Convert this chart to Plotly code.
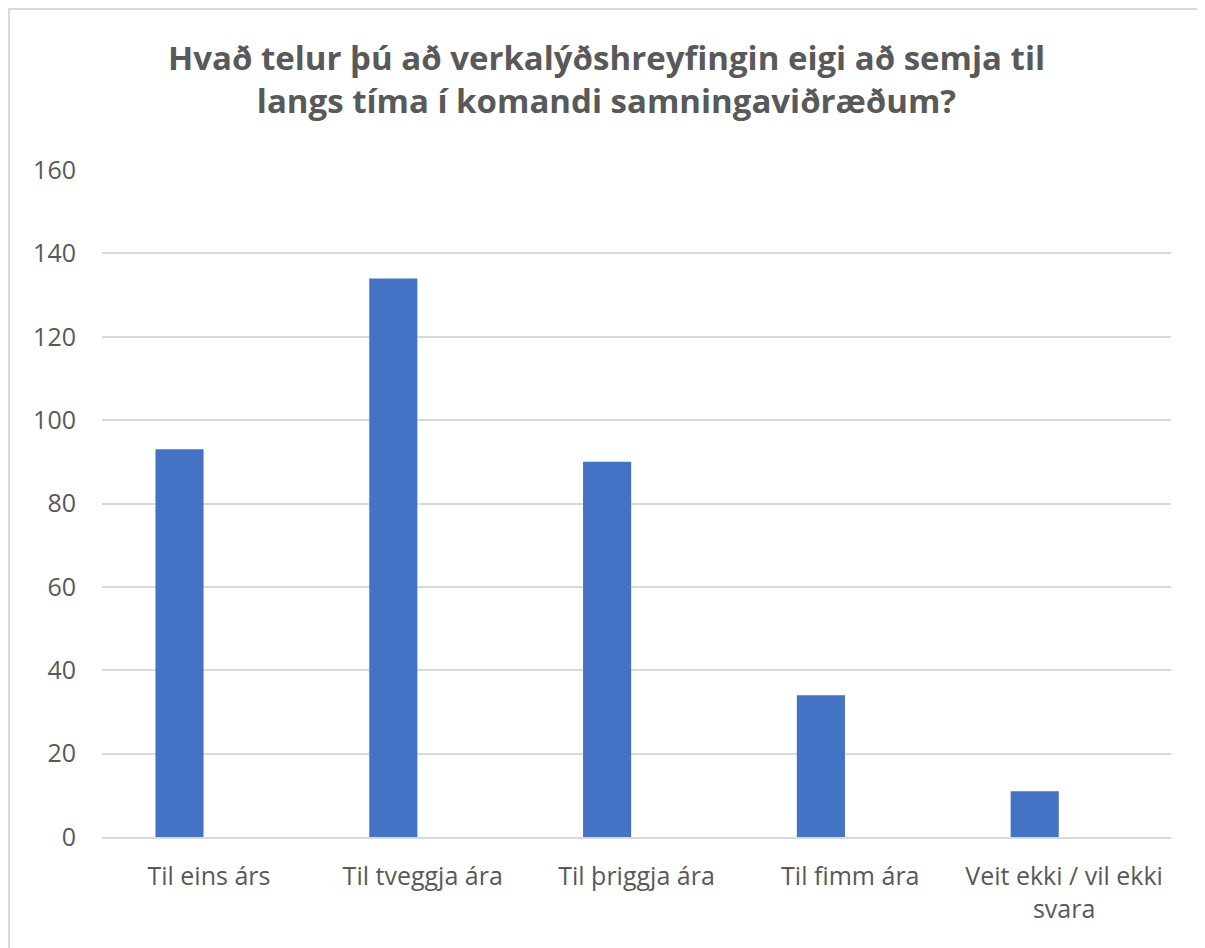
import plotly.graph_objects as go

categories = ["Til eins árs", "Til tveggja ára", "Til þriggja ára", "Til fimm ára", "Veit ekki / vil ekki<br>svara"]
values = [93, 134, 90, 34, 11]
y_ticks = [0, 20, 40, 60, 80, 100, 120, 140, 160]
title_text = "Hvað telur þú að verkalýðshreyfingin eigi að semja til<br>langs tíma í komandi samningaviðræðum?"

# page body has an 8px margin, so the figure is sized/positioned relative to that
OFF = 8
W, H = 1205 - OFF, 948 - OFF
L = 102 - OFF
R = W - (1171 - OFF)
T = 170 - OFF
B = H - (837 - OFF)
PW, PH = W - L - R, H - T - B

fig = go.Figure()
fig.add_trace(go.Bar(
    x=categories, y=values,
    marker=dict(color="#4472C4", line=dict(width=0)),
    width=0.225, offset=-0.25,
    hoverinfo="x+y",
))

fig.update_layout(
    width=W, height=H,
    margin=dict(l=L, r=R, t=T, b=B),
    plot_bgcolor="white", paper_bgcolor="white",
    showlegend=False,
    font=dict(family="Open Sans", color="#595959"),
    title=dict(
        text=title_text,
        x=0.5, xanchor="center",
        y=1 - (70 - OFF) / H, yanchor="middle",
        font=dict(family="Open Sans", size=33, color="#595959", weight="bold"),
    ),
    xaxis=dict(
        showline=True, linecolor="#d9d9d9", linewidth=2,
        ticks="", tickfont=dict(size=25, color="#595959"),
        ticklabelstandoff=16,
    ),
    yaxis=dict(
        range=[0, 160], tickvals=y_ticks,
        showgrid=True, gridcolor="#d9d9d9", gridwidth=2,
        zeroline=False, showline=False,
        tickfont=dict(size=25, color="#595959"),
        ticklabelstandoff=25,
    ),
    shapes=[dict(
        type="rect", xref="paper", yref="paper",
        x0=(1 - L) / PW, x1=(1200 - OFF - L) / PW,
        y0=(H - B - (H + 40)) / PH, y1=(H - B - 1) / PH,
        line=dict(color="#d9d9d9", width=2), fillcolor="rgba(0,0,0,0)",
        layer="below",
    )],
)

fig.write_html("out.html")
